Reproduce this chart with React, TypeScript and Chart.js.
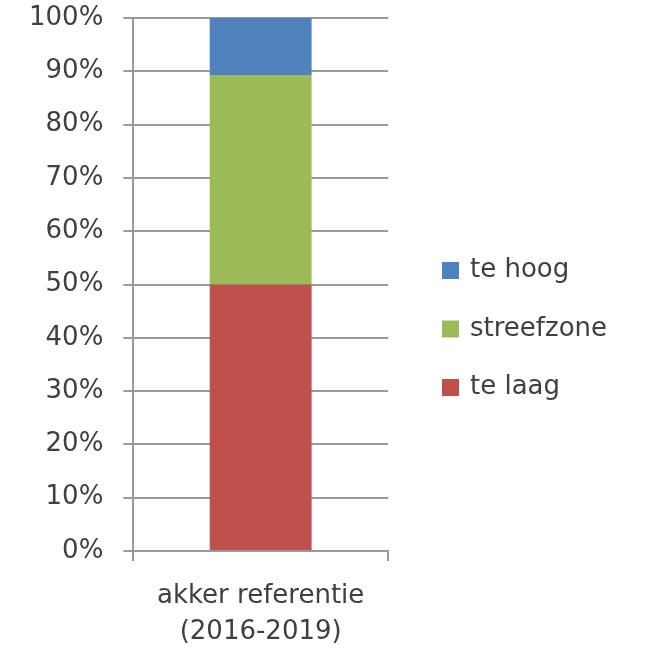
import React, { useEffect, useRef } from 'react';
import { Chart, registerables } from 'chart.js';

Chart.register(...registerables);

// Share of plots per class, in percent of the reference set
const categories = [['akker referentie', '(2016-2019)']];
const teLaag = [50];
const streefzone = [39.3];
const teHoog = [10.7];

const seriesLabels = ['te laag', 'streefzone', 'te hoog'];
const seriesColors = ['#C0504D', '#9BBB59', '#4F81BD'];

const gridGray = '#9a9a9a';
const textGray = '#404040';
const fontFamily = "'DejaVu Sans', sans-serif";
const font = { family: fontFamily, size: 26 };

// Legend to the right of the plot, listed top-down in stacking order
const sideLegend = {
  id: 'sideLegend',
  afterDraw(chart: any) {
    const { ctx, chartArea } = chart;
    const items = chart.data.datasets
      .map((d: any) => ({ label: d.label as string, color: d.backgroundColor as string }))
      .reverse();
    const box = 17;
    const spacing = 58.5;
    const x = chartArea.right + 54;
    const midY = chart.height / 2 + 5;
    ctx.save();
    ctx.font = `${font.size}px ${fontFamily}`;
    ctx.textBaseline = 'middle';
    ctx.textAlign = 'left';
    items.forEach((it: any, i: number) => {
      const y = midY + (i - (items.length - 1) / 2) * spacing;
      ctx.fillStyle = it.color;
      ctx.fillRect(x, y - box / 2, box, box);
      ctx.fillStyle = textGray;
      ctx.fillText(it.label, x + box + 11, y);
    });
    ctx.restore();
  },
};

export default function App() {
  const canvasRef = useRef<HTMLCanvasElement>(null);

  useEffect(() => {
    const chart = new Chart(canvasRef.current!, {
      type: 'bar',
      data: {
        labels: categories,
        datasets: [
          { label: seriesLabels[0], data: teLaag, backgroundColor: seriesColors[0] },
          { label: seriesLabels[1], data: streefzone, backgroundColor: seriesColors[1] },
          { label: seriesLabels[2], data: teHoog, backgroundColor: seriesColors[2] },
        ],
      },
      options: {
        animation: false,
        responsive: true,
        maintainAspectRatio: false,
        layout: { padding: { top: 18, left: 9, right: 258, bottom: 0 } },
        datasets: { bar: { categoryPercentage: 1, barPercentage: 0.4 } },
        plugins: {
          legend: { display: false },
          tooltip: { enabled: false },
        },
        scales: {
          x: {
            stacked: true,
            offset: true,
            grid: { offset: true, drawOnChartArea: false, color: gridGray, lineWidth: 2, tickLength: 10 },
            border: { color: gridGray, width: 2 },
            ticks: { color: textGray, font: { ...font, lineHeight: 1.4 }, padding: 17 },
            afterFit: (s: any) => {
              s.height = 97;
            },
          },
          y: {
            stacked: true,
            min: 0,
            max: 100,
            ticks: {
              stepSize: 10,
              callback: (v: any) => v + '%',
              color: textGray,
              font,
              padding: 20,
            },
            grid: { color: gridGray, lineWidth: 2, tickLength: 10 },
            border: { color: gridGray, width: 2 },
            afterFit: (s: any) => {
              s.paddingTop = 0;
              s.paddingBottom = 0;
            },
          },
        },
      } as any,
      plugins: [sideLegend],
    });
    return () => chart.destroy();
  }, []);

  return (
    <div style={{ position: 'fixed', left: 0, top: 0, width: 646, height: 648, background: '#fff' }}>
      <canvas ref={canvasRef} />
    </div>
  );
}
